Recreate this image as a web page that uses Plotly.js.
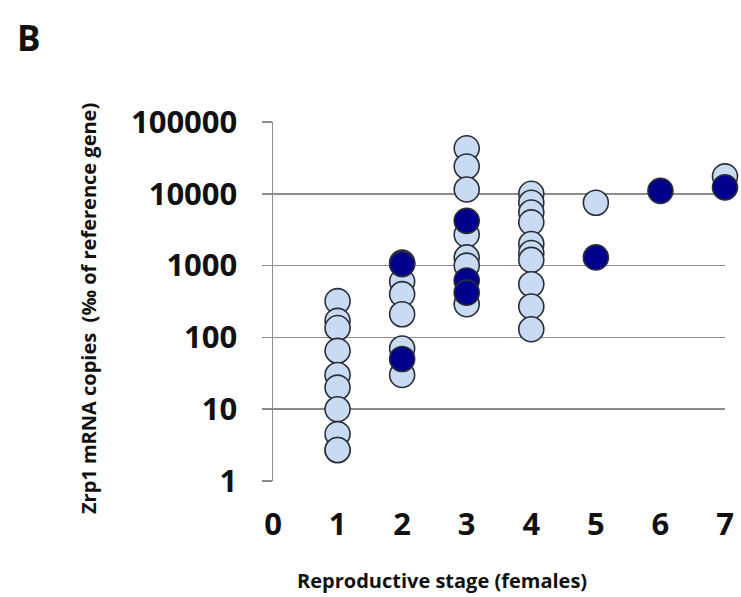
<!DOCTYPE html>
<html>
<head>
<meta charset="utf-8">
<script src="https://cdn.plot.ly/plotly-3.0.1.min.js"></script>
<style>html,body{margin:0;padding:0;background:#fff}#chart{width:741px;height:597px}</style>
</head>
<body>
<div id="chart"></div>
<script>
// Light-blue points (stage, copies)
const lightStage = [1,1,1,1,1,1,1,1,1,1,
                    2,2,2,2,2,2,
                    3,3,3,3,3,3,3,
                    4,4,4,4,4,4,4,4,4,4,
                    5,7];
const lightValue = [320,170,135,65,30,20,10,4.5,2.7,2.7,
                    1100,600,400,210,70,30,
                    43000,24000,11500,2700,1300,1000,290,
                    10000,7500,5500,4000,2000,1500,1200,550,270,130,
                    7500,17500];
// Dark-blue points (stage, copies)
const darkStage = [2,2,3,3,3,5,6,7];
const darkValue = [1050,50,4200,620,420,1300,11000,12300];

const yTickVals = [1,10,100,1000,10000,100000];
const yTickText = ['1','10','100','1000','10000','100000'];
const xTickVals = [0,1,2,3,4,5,6,7];
const xTickText = ['0','1','2','3','4','5','6','7'];

const FONT = 'Open Sans, Liberation Sans, Arial, sans-serif';
const mk = (fill) => ({size: 25, color: fill, line: {color: '#2a2e3a', width: 1.6}});

const traces = [
  {x: lightStage, y: lightValue, type: 'scatter', mode: 'markers', marker: mk('#c9dbf2'), cliponaxis: false, hoverinfo: 'x+y'},
  {x: darkStage, y: darkValue, type: 'scatter', mode: 'markers', marker: mk('#00008c'), cliponaxis: false, hoverinfo: 'x+y'}
];

const layout = {
  width: 741, height: 597,
  margin: {l: 273, r: 16, t: 122, b: 116, pad: 0},
  paper_bgcolor: '#ffffff', plot_bgcolor: '#ffffff',
  showlegend: false,
  font: {family: FONT, color: '#111'},
  xaxis: {
    range: [0, 7], tickvals: xTickVals, ticktext: xTickText,
    showgrid: false, zeroline: false, showline: false,
    ticks: '', ticklabelstandoff: 22,
    tickfont: {family: FONT, size: 31, color: '#111', weight: 'bold'}
  },
  yaxis: {
    type: 'log', range: [0, 5], tickvals: yTickVals, ticktext: yTickText,
    showgrid: true, gridcolor: '#8c8c8c', gridwidth: 1.5,
    zeroline: false, showline: true, linecolor: '#8c8c8c', linewidth: 1.5,
    ticks: 'outside', ticklen: 10, tickcolor: '#8c8c8c', tickwidth: 1.5,
    ticklabelstandoff: 18,
    tickfont: {family: FONT, size: 31, color: '#111', weight: 'bold'}
  },
  annotations: [
    {text: 'B', xref: 'paper', yref: 'paper', x: (15-273)/452, y: (481-37)/359,
     xanchor: 'left', yanchor: 'middle', showarrow: false,
     font: {family: FONT, size: 35, color: '#111', weight: 'bold'}},
    {text: 'Reproductive stage (females)', xref: 'paper', yref: 'paper',
     x: (442-273)/452, y: (481-580)/359, xanchor: 'center', yanchor: 'middle', showarrow: false,
     font: {family: FONT, size: 20, color: '#111', weight: 'bold'}},
    {text: 'Zrp1 mRNA copies  (‰ of reference gene)', xref: 'paper', yref: 'paper',
     x: (88-273)/452, y: (481-309)/359, xanchor: 'center', yanchor: 'middle', showarrow: false,
     textangle: -90,
     font: {family: FONT, size: 20, color: '#111', weight: 'bold'}}
  ]
};

Plotly.newPlot('chart', traces, layout, {displayModeBar: false, staticPlot: true});
</script>
</body>
</html>
